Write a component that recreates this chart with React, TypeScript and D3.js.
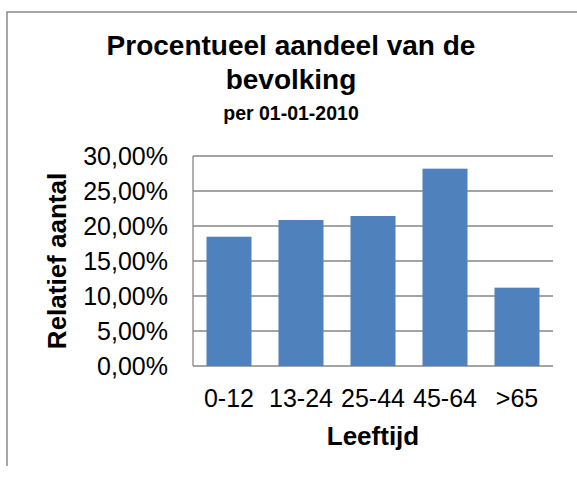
import React, { useEffect, useRef } from 'react';
import * as d3 from 'd3';

const categories = ['0-12', '13-24', '25-44', '45-64', '>65'];
const aandeel = [18.47, 20.86, 21.43, 28.19, 11.19];
const yTicks = [0, 5, 10, 15, 20, 25, 30];

const FONT = '"Liberation Sans", Arial, sans-serif';

const App = () => {
  const chartRef = useRef<SVGSVGElement>(null);

  useEffect(() => {
    const svg = d3.select(chartRef.current);
    svg.selectAll('*').remove();

    // plot area
    const plot = { left: 193, right: 553, top: 156, bottom: 366 };

    // rand van de grafiek (rechts en onder afgesneden)
    svg.append('path')
      .attr('d', 'M7,466V12H577')
      .attr('fill', 'none')
      .attr('stroke', '#8a8a8a')
      .attr('stroke-width', 1.5);

    const x = d3.scaleBand()
      .domain(categories)
      .range([plot.left, plot.right])
      .paddingInner(0.375)
      .paddingOuter(0.1875);

    const y = d3.scaleLinear()
      .domain([0, 30])
      .range([plot.bottom, plot.top]);

    // rasterlijnen
    svg.append('g')
      .selectAll('line')
      .data(yTicks)
      .enter()
      .append('line')
      .attr('x1', plot.left)
      .attr('x2', plot.right)
      .attr('y1', d => y(d))
      .attr('y2', d => y(d))
      .attr('stroke', '#868686')
      .attr('stroke-width', 1.3);

    svg.append('line')
      .attr('x1', plot.left)
      .attr('x2', plot.left)
      .attr('y1', plot.top)
      .attr('y2', plot.bottom)
      .attr('stroke', '#868686')
      .attr('stroke-width', 1.3);

    // staven
    svg.append('g')
      .selectAll('rect')
      .data(aandeel)
      .enter()
      .append('rect')
      .attr('x', (d, i) => x(categories[i]) as number)
      .attr('y', d => y(d))
      .attr('width', x.bandwidth())
      .attr('height', d => plot.bottom - y(d))
      .attr('fill', '#4f81bd');

    // y-as labels
    svg.append('g')
      .selectAll('text')
      .data(yTicks)
      .enter()
      .append('text')
      .attr('x', 168)
      .attr('y', d => y(d))
      .attr('dy', '0.35em')
      .attr('text-anchor', 'end')
      .attr('font-family', FONT)
      .attr('font-size', 25)
      .text(d => d3.format('.2f')(d).replace('.', ',') + '%');

    // x-as labels
    svg.append('g')
      .selectAll('text')
      .data(categories)
      .enter()
      .append('text')
      .attr('x', d => (x(d) as number) + x.bandwidth() / 2)
      .attr('y', 407)
      .attr('text-anchor', 'middle')
      .attr('font-family', FONT)
      .attr('font-size', 25)
      .text(d => d);

    // titels
    const titel = svg.append('text')
      .attr('text-anchor', 'middle')
      .attr('font-family', FONT)
      .attr('font-weight', 'bold')
      .attr('fill', '#000');
    titel.append('tspan').attr('x', 291).attr('y', 55).attr('font-size', 28).text('Procentueel aandeel van de');
    titel.append('tspan').attr('x', 291).attr('y', 89).attr('font-size', 28).text('bevolking');
    titel.append('tspan').attr('x', 291).attr('y', 120).attr('font-size', 19.5).text('per 01-01-2010');

    svg.append('text')
      .attr('x', (plot.left + plot.right) / 2)
      .attr('y', 445)
      .attr('text-anchor', 'middle')
      .attr('font-family', FONT)
      .attr('font-weight', 'bold')
      .attr('font-size', 26)
      .text('Leeftijd');

    svg.append('text')
      .attr('transform', `translate(66,${(plot.top + plot.bottom) / 2}) rotate(-90)`)
      .attr('text-anchor', 'middle')
      .attr('font-family', FONT)
      .attr('font-weight', 'bold')
      .attr('font-size', 26)
      .text('Relatief aantal');
  }, []);

  return (
    <svg
      ref={chartRef}
      width={577}
      height={479}
      style={{ position: 'absolute', left: 0, top: 0, background: '#fff' }}
    />
  );
};

export default App;
